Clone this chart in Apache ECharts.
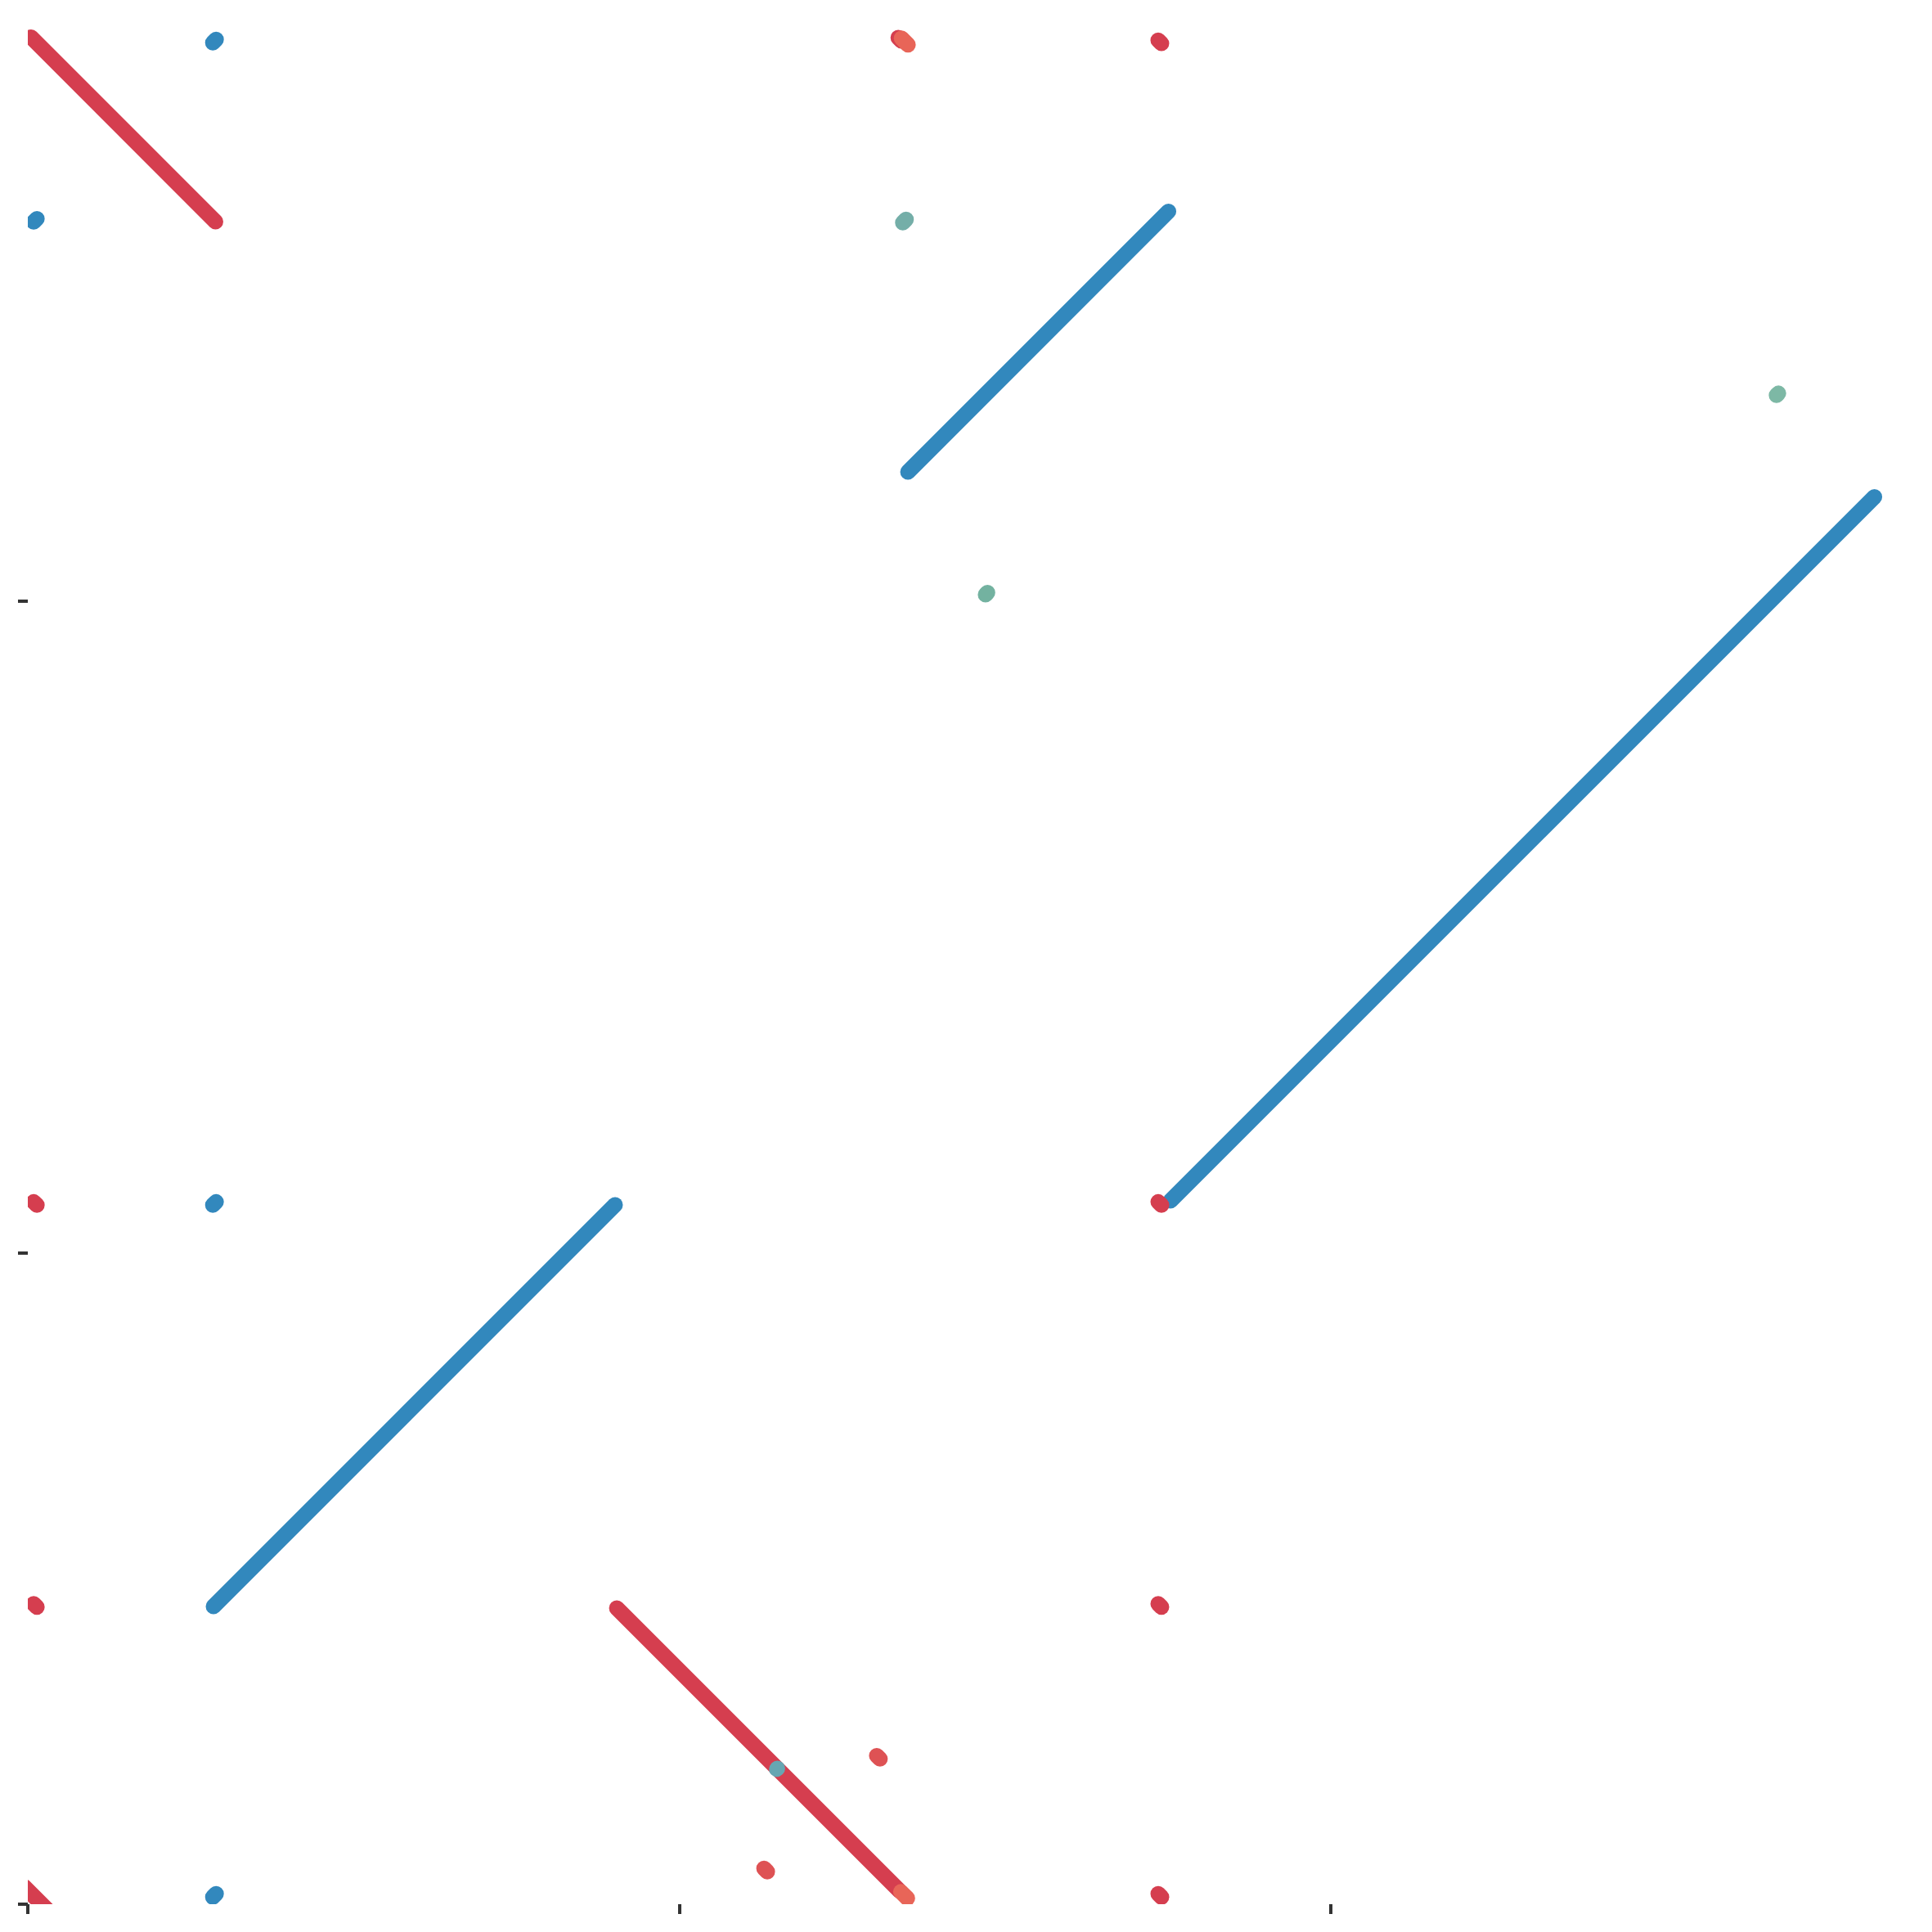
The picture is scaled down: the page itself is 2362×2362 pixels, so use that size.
<!DOCTYPE html>
<html>
<head>
<meta charset="utf-8">
<script src="https://cdn.jsdelivr.net/npm/echarts@6/dist/echarts.min.js"></script>
<style>
html,body{margin:0;padding:0;background:#fff;}
#chart{width:2362px;height:2362px;}
</style>
</head>
<body>
<div id="chart"></div>
<script>
// Axis ticks (value units)
const xTicks = [0, 1, 2];
const yTicks = [0, 1, 2];
const xMax = 2.88;
const yMax = 2.88;

// Segments: [x1, y1, x2, y2]
const blueLines = [
  [1.3509, 2.1984, 1.7508, 2.5983],
  [1.7539, 1.0797, 2.8343, 2.1601],
  [0.2850, 0.4570, 0.9014, 1.0734]
];
const redLines = [
  [0.0050, 2.8657, 0.2881, 2.5825],
  [0.9040, 0.4545, 1.3384, 0.0201]
];
const blueDots = [
  [0.284, 2.857, 0.289, 2.862],
  [0.009, 2.582, 0.014, 2.587],
  [0.284, 1.073, 0.289, 1.078],
  [0.284, 0.011, 0.289, 0.016]
];
const tealDots = [
  [1.343, 2.581, 1.348, 2.586],
  [2.684, 2.316, 2.687, 2.319],
  [1.470, 2.010, 1.473, 2.013],
  [1.1495, 0.2073, 1.1505, 0.2083]
];
const tealColors = ['#74aea8', '#7db8a5', '#73b2a0', '#66a6b2'];
const redDots = [
  [1.336, 2.865, 1.341, 2.860],
  [1.735, 2.861, 1.740, 2.856],
  [0.009, 1.078, 0.014, 1.073],
  [1.735, 1.078, 1.740, 1.073],
  [0.009, 0.461, 0.014, 0.456],
  [1.735, 0.461, 1.740, 0.456],
  [1.735, 0.016, 1.740, 0.011],
  [-0.005, 0.0264, 0.0327, -0.0113]
];
const salmonDots = [
  [1.303, 0.228, 1.308, 0.223],
  [1.130, 0.055, 1.135, 0.050]
];
const coralDots = [
  [1.341, 2.864, 1.351, 2.854],
  [1.340, 0.019, 1.350, 0.009]
];

function makeSeries(data, color, width, colors) {
  return {
    type: 'custom',
    clip: true,
    silent: true,
    animation: false,
    encode: { x: [0, 2], y: [1, 3] },
    data: data,
    renderItem: function (params, api) {
      const p1 = api.coord([api.value(0), api.value(1)]);
      const p2 = api.coord([api.value(2), api.value(3)]);
      return {
        type: 'line',
        shape: { x1: p1[0], y1: p1[1], x2: p2[0], y2: p2[1] },
        style: {
          stroke: colors ? colors[params.dataIndex] : color,
          lineWidth: width,
          lineCap: 'round',
          fill: null
        }
      };
    }
  };
}

const chart = echarts.init(document.getElementById('chart'), null, { renderer: 'canvas' });
chart.setOption({
  backgroundColor: '#ffffff',
  animation: false,
  grid: { left: 34, right: 34, top: 34, bottom: 34 },
  xAxis: {
    type: 'value', min: 0, max: xMax,
    axisLine: { show: false },
    axisTick: { show: true, customValues: xTicks, length: 12, lineStyle: { color: '#333333', width: 4 } },
    axisLabel: { show: false },
    splitLine: { show: false }
  },
  yAxis: {
    type: 'value', min: 0, max: yMax,
    axisLine: { show: false },
    axisTick: { show: true, customValues: yTicks, length: 12, lineStyle: { color: '#333333', width: 4 } },
    axisLabel: { show: false },
    splitLine: { show: false }
  },
  series: [
    makeSeries(blueLines, '#3288bd', 19),
    makeSeries(redLines, '#d53e4f', 19),
    makeSeries(blueDots, '#3288bd', 19),
    makeSeries(tealDots, null, 19, tealColors),
    makeSeries(redDots, '#d53e4f', 19),
    makeSeries(salmonDots, '#de5254', 19),
    makeSeries(coralDots, '#e86558', 19)
  ]
});
</script>
</body>
</html>
